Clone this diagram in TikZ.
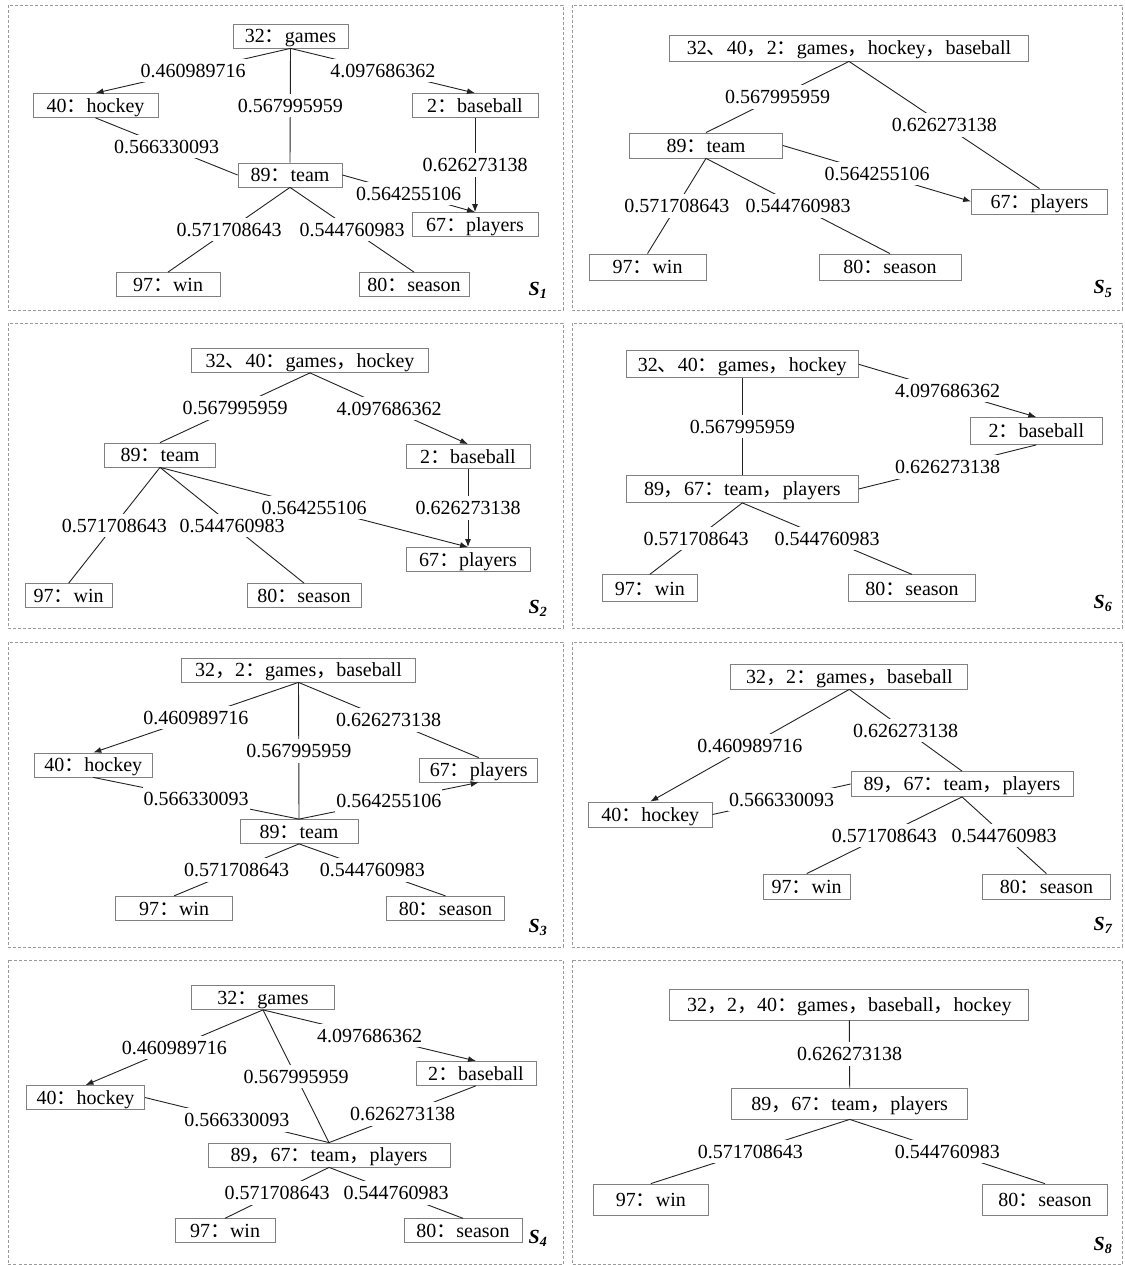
\documentclass[tikz,border=0pt]{standalone}
\usepackage{fontspec}
\setmainfont{Liberation Serif}
\newfontfamily\cjkf{Noto Sans CJK SC}
\usetikzlibrary{arrows.meta}
\newcommand{\zcolon}{{\cjkf ：}}
\newcommand{\zdun}{{\cjkf 、}}
\newcommand{\zcomma}{{\cjkf ，}}
\newcommand{\fsz}{\fontsize{20}{24}\selectfont}
\definecolor{boxgray}{HTML}{808080}
\definecolor{linecol}{HTML}{222222}
\definecolor{framecol}{HTML}{9A9A9A}
\begin{document}
\begin{tikzpicture}[x=1pt,y=-1pt,
  box/.style={draw=boxgray,line width=0.8pt,inner sep=0pt,minimum height=24pt,
              text height=15.5pt,text depth=2pt,font=\fsz},
  lbl/.style={fill=white,inner xsep=1pt,inner ysep=3pt,text height=15.5pt,text depth=2pt,font=\fsz},
  ln/.style={draw=linecol,line width=0.9pt},
  arr/.style={ln,-{Latex[length=8pt,width=6pt]}},
  frame/.style={draw=framecol,line width=0.6pt,dash pattern=on 3pt off 2pt},
  slbl/.style={font=\fsz\bfseries\itshape,inner sep=0pt}]
\useasboundingbox (0,0) rectangle (1124,1265);
\fill[white] (0,0) rectangle (1124,1265);
% frames
\draw[frame] (8,5) rectangle (563,310);
\draw[frame] (572,5) rectangle (1122,310);
\draw[frame] (8,323) rectangle (563,628);
\draw[frame] (572,323) rectangle (1122,628);
\draw[frame] (8,642) rectangle (563,947);
\draw[frame] (572,642) rectangle (1122,947);
\draw[frame] (8,960) rectangle (563,1264.5);
\draw[frame] (572,960) rectangle (1122,1264.5);

% ---------------- S1
\node[box,minimum width=115pt] (g1) at (290.5,36) {32\zcolon games};
\node[box,minimum width=125pt] (h1) at (95.5,105.5) {40\zcolon hockey};
\node[box,minimum width=126pt] (b1) at (475,105.5) {2\zcolon baseball};
\node[box,minimum width=104pt] (t1) at (290,175) {89\zcolon team};
\node[box,minimum width=126pt] (p1) at (475,224.5) {67\zcolon players};
\node[box,minimum width=104pt] (w1) at (168,284.5) {97\zcolon win};
\node[box,minimum width=110pt] (s1) at (414,284.5) {80\zcolon season};
\draw[arr] (g1.south) -- node[lbl] (e1a) {0.460989716} (h1.north);
\draw[arr] (g1.south) -- node[lbl] (e1b) {4.097686362} (b1.north);
\draw[ln] (g1.south) -- node[lbl] (e1c) {0.567995959} (t1.north);
\draw[ln] (h1.south) -- node[lbl] (e1d) {0.566330093} (t1.west);
\draw[arr] (t1.east) -- node[lbl] (e1e) {0.564255106} (p1.north);
\draw[arr] (b1.south) -- node[lbl] (e1f) {0.626273138} (p1.north);
\draw[ln] (t1.south) -- node[lbl] (e1g) {0.571708643} (w1.north);
\draw[ln] (t1.south) -- node[lbl] (e1h) {0.544760983} (s1.north);
\node[slbl] (S1) at (538,290) {S\textsubscript{1}};

% ---------------- S5
\node[box,minimum width=359pt,minimum height=26pt] (top5) at (849,48) {32\zdun 40\zcomma 2\zcolon games\zcomma hockey\zcomma baseball};
\node[box,minimum width=153pt,minimum height=25pt] (t5) at (706,145.5) {89\zcolon team};
\node[box,minimum width=136pt,minimum height=25pt] (p5) at (1039.5,201.5) {67\zcolon players};
\node[box,minimum width=117pt,minimum height=26pt] (w5) at (647.5,267) {97\zcolon win};
\node[box,minimum width=142pt,minimum height=26pt] (s5) at (890,267) {80\zcolon season};
\draw[ln] (top5.south) -- node[lbl] (e5a) {0.567995959} (t5.north);
\draw[ln] (top5.south) -- node[lbl] (e5b) {0.626273138} (p5.north);
\draw[arr] (t5.east) -- node[lbl] (e5c) {0.564255106} (p5.west);
\draw[ln] (t5.south) -- node[lbl] (e5d) {0.571708643} (w5.north);
\draw[ln] (t5.south) -- node[lbl] (e5e) {0.544760983} (s5.north);
\node[slbl] (S5) at (1103,289) {S\textsubscript{5}};

% ---------------- S2
\node[box,minimum width=237pt] (top2) at (310,360.5) {32\zdun 40\zcolon games\zcomma hockey};
\node[box,minimum width=111pt] (t2) at (160,455) {89\zcolon team};
\node[box,minimum width=124pt] (b2) at (468,456.5) {2\zcolon baseball};
\node[box,minimum width=124pt] (p2) at (468,559.5) {67\zcolon players};
\node[box,minimum width=87pt] (w2) at (68.7,595.5) {97\zcolon win};
\node[box,minimum width=114pt] (s2) at (304,595.5) {80\zcolon season};
\draw[ln] (top2.south) -- node[lbl] (e2a) {0.567995959} (t2.north);
\draw[arr] (top2.south) -- node[lbl] (e2b) {4.097686362} (b2.north);
\draw[ln] (t2.south) -- node[lbl] (e2c) {0.571708643} (w2.north);
\draw[ln] (t2.south) -- node[lbl] (e2d) {0.544760983} (s2.north);
\draw[arr] (t2.south) -- node[lbl] (e2e) {0.564255106} (p2.north);
\draw[arr] (b2.south) -- node[lbl] (e2f) {0.626273138} (p2.north);
\node[slbl] (S2) at (538,608) {S\textsubscript{2}};

% ---------------- S6
\node[box,minimum width=232pt,minimum height=27pt] (top6) at (742.3,364.3) {32\zdun 40\zcolon games\zcomma hockey};
\node[box,minimum width=132pt,minimum height=27pt] (b6) at (1036.3,431) {2\zcolon baseball};
\node[box,minimum width=232pt,minimum height=27pt] (t6) at (742.3,489) {89\zcomma 67\zcolon team\zcomma players};
\node[box,minimum width=95pt,minimum height=27pt] (w6) at (649.8,588.3) {97\zcolon win};
\node[box,minimum width=127.5pt,minimum height=27pt] (s6) at (912,588.3) {80\zcolon season};
\draw[ln] (top6.south) -- node[lbl] (e6a) {0.567995959} (t6.north);
\draw[arr] (top6.east) -- node[lbl] (e6b) {4.097686362} (b6.north);
\draw[ln] (b6.south) -- node[lbl] (e6c) {0.626273138} (t6.east);
\draw[ln] (t6.south) -- node[lbl] (e6d) {0.571708643} (w6.north);
\draw[ln] (t6.south) -- node[lbl] (e6e) {0.544760983} (s6.north);
\node[slbl] (S6) at (1103,603) {S\textsubscript{6}};

% ---------------- S3
\node[box,minimum width=234pt] (top3) at (298.5,670) {32\zcomma 2\zcolon games\zcomma baseball};
\node[box,minimum width=118pt] (h3) at (93.3,765) {40\zcolon hockey};
\node[box,minimum width=118pt] (p3) at (478.7,770) {67\zcolon players};
\node[box,minimum width=118pt] (t3) at (299,831.5) {89\zcolon team};
\node[box,minimum width=117pt] (w3) at (174,908.3) {97\zcolon win};
\node[box,minimum width=118pt] (s3) at (445.5,908.3) {80\zcolon season};
\draw[arr] (top3.south) -- node[lbl] (e3a) {0.460989716} (h3.north);
\draw[ln] (top3.south) -- node[lbl] (e3b) {0.567995959} (t3.north);
\draw[ln] (top3.south) -- node[lbl] (e3c) {0.626273138} (p3.north);
\draw[ln] (h3.south) -- node[lbl] (e3d) {0.566330093} (t3.north);
\draw[arr] (t3.north) -- node[lbl] (e3e) {0.564255106} (p3.south);
\draw[ln] (t3.south) -- node[lbl] (e3f) {0.571708643} (w3.north);
\draw[ln] (t3.south) -- node[lbl] (e3g) {0.544760983} (s3.north);
\node[slbl] (S3) at (538,927) {S\textsubscript{3}};

% ---------------- S7
\node[box,minimum width=237pt,minimum height=25pt] (top7) at (849.3,676.5) {32\zcomma 2\zcolon games\zcomma baseball};
\node[box,minimum width=222pt,minimum height=25pt] (t7) at (962,784) {89\zcomma 67\zcolon team\zcomma players};
\node[box,minimum width=123.5pt,minimum height=25pt] (h7) at (650.3,814.5) {40\zcolon hockey};
\node[box,minimum width=87.5pt,minimum height=25pt] (w7) at (806.7,886.5) {97\zcolon win};
\node[box,minimum width=127.5pt,minimum height=25pt] (s7) at (1046.4,886.5) {80\zcolon season};
\draw[arr] (top7.south) -- node[lbl] (e7a) {0.460989716} (h7.north);
\draw[ln] (top7.south) -- node[lbl] (e7b) {0.626273138} (t7.north);
\draw[ln] (t7.west) -- node[lbl] (e7c) {0.566330093} (h7.east);
\draw[ln] (t7.south) -- node[lbl] (e7d) {0.571708643} (w7.north);
\draw[ln] (t7.south) -- node[lbl] (e7e) {0.544760983} (s7.north);
\node[slbl] (S7) at (1103,925) {S\textsubscript{7}};

% ---------------- S4
\node[box,minimum width=143pt] (g4) at (263,997.5) {32\zcolon games};
\node[box,minimum width=118pt] (h4) at (85.5,1097.5) {40\zcolon hockey};
\node[box,minimum width=120pt] (b4) at (476,1073.4) {2\zcolon baseball};
\node[box,minimum width=242pt] (t4) at (329,1155) {89\zcomma 67\zcolon team\zcomma players};
\node[box,minimum width=100pt] (w4) at (225,1230.7) {97\zcolon win};
\node[box,minimum width=118pt] (s4) at (463,1230.7) {80\zcolon season};
\draw[arr] (g4.south) -- node[lbl] (e4a) {0.460989716} (h4.north);
\draw[arr] (g4.south) -- node[lbl] (e4b) {4.097686362} (b4.north);
\draw[ln] (g4.south) -- node[lbl] (e4c) {0.567995959} (t4.north);
\draw[ln] (h4.east) -- node[lbl] (e4d) {0.566330093} (t4.north);
\draw[ln] (b4.south) -- node[lbl] (e4e) {0.626273138} (t4.north);
\draw[ln] (t4.south) -- node[lbl] (e4f) {0.571708643} (w4.north);
\draw[ln] (t4.south) -- node[lbl] (e4g) {0.544760983} (s4.north);
\node[slbl] (S4) at (538,1238) {S\textsubscript{4}};

% ---------------- S8
\node[box,minimum width=359pt,minimum height=31pt] (top8) at (849.3,1004.5) {32\zcomma 2\zcomma 40\zcolon games\zcomma baseball\zcomma hockey};
\node[box,minimum width=236pt,minimum height=31pt] (t8) at (849.7,1103.5) {89\zcomma 67\zcolon team\zcomma players};
\node[box,minimum width=115pt,minimum height=31pt] (w8) at (650.8,1199.5) {97\zcolon win};
\node[box,minimum width=125.5pt,minimum height=31pt] (s8) at (1044.9,1199.5) {80\zcolon season};
\draw[ln] (top8.south) -- node[lbl] (e8a) {0.626273138} (t8.north);
\draw[ln] (t8.south) -- node[lbl] (e8b) {0.571708643} (w8.north);
\draw[ln] (t8.south) -- node[lbl] (e8c) {0.544760983} (s8.north);
\node[slbl] (S8) at (1103,1245) {S\textsubscript{8}};
\end{tikzpicture}
\end{document}
